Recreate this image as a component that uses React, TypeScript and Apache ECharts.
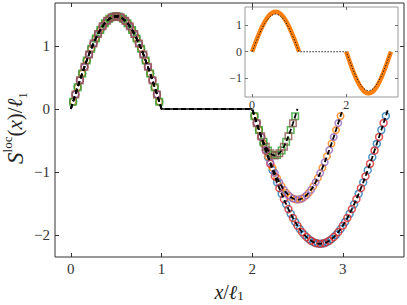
import React, { useEffect, useRef } from "react";
import * as echarts from "echarts";

// ---------- data ----------
// main plot: two interleaved sampling grids (set A and set B)
const humpXA = [0.025, 0.075, 0.125, 0.175, 0.225, 0.275, 0.325, 0.375, 0.425, 0.475, 0.525, 0.575, 0.625, 0.675, 0.725, 0.775, 0.825, 0.875, 0.925, 0.975];
const humpXB = [0.05, 0.1, 0.15, 0.2, 0.25, 0.3, 0.35, 0.4, 0.45, 0.5, 0.55, 0.6, 0.65, 0.7, 0.75, 0.8, 0.85, 0.9, 0.95];
const humpYA = [0.115, 0.343, 0.563, 0.768, 0.955, 1.118, 1.253, 1.358, 1.429, 1.466, 1.466, 1.429, 1.358, 1.253, 1.118, 0.955, 0.768, 0.563, 0.343, 0.115];
const humpYB = [0.23, 0.454, 0.667, 0.864, 1.039, 1.189, 1.31, 1.398, 1.452, 1.47, 1.452, 1.398, 1.31, 1.189, 1.039, 0.864, 0.667, 0.454, 0.23];

const dipXA = [2.025, 2.075, 2.125, 2.175, 2.225, 2.275, 2.325, 2.375, 2.425, 2.475, 2.525, 2.575, 2.625, 2.675, 2.725, 2.775, 2.825, 2.875, 2.925, 2.975, 3.025, 3.075, 3.125, 3.175, 3.225, 3.275, 3.325, 3.375, 3.425, 3.475];
const dipXB = [2.05, 2.1, 2.15, 2.2, 2.25, 2.3, 2.35, 2.4, 2.45, 2.5, 2.55, 2.6, 2.65, 2.7, 2.75, 2.8, 2.85, 2.9, 2.95, 3, 3.05, 3.1, 3.15, 3.2, 3.25, 3.3, 3.35, 3.4, 3.45];

const dip1YA = [-0.116, -0.336, -0.523, -0.659, -0.731, -0.731, -0.659, -0.523, -0.336, -0.116];
const dip1YB = [-0.229, -0.435, -0.599, -0.704, -0.74, -0.704, -0.599, -0.435, -0.229];
const dip2YA = [-0.113, -0.336, -0.551, -0.752, -0.935, -1.095, -1.228, -1.33, -1.4, -1.436, -1.436, -1.4, -1.33, -1.228, -1.095, -0.935, -0.752, -0.551, -0.336, -0.113];
const dip2YB = [-0.225, -0.445, -0.654, -0.846, -1.018, -1.165, -1.283, -1.37, -1.422, -1.44, -1.422, -1.37, -1.283, -1.165, -1.018, -0.846, -0.654, -0.445, -0.225];
const dip3YA = [-0.112, -0.335, -0.554, -0.767, -0.972, -1.165, -1.347, -1.513, -1.663, -1.795, -1.907, -1.998, -2.067, -2.114, -2.137, -2.137, -2.114, -2.067, -1.998, -1.907, -1.795, -1.663, -1.513, -1.347, -1.165, -0.972, -0.767, -0.554, -0.335, -0.112];
const dip3YB = [-0.224, -0.445, -0.661, -0.87, -1.07, -1.258, -1.432, -1.59, -1.731, -1.853, -1.955, -2.035, -2.093, -2.128, -2.14, -2.128, -2.093, -2.035, -1.955, -1.853, -1.731, -1.59, -1.432, -1.258, -1.07, -0.87, -0.661, -0.445, -0.224];

const caseEnds = [2.5, 3, 3.5];
const flatStart = 1;
const flatEnd = 2;

const mainXTicks = [0, 1, 2, 3];
const mainYTicks = [-2, -1, 0, 1];

// inset
const insetHumpX = [0, 0.05, 0.1, 0.15, 0.2, 0.25, 0.3, 0.35, 0.4, 0.45, 0.5, 0.55, 0.6, 0.65, 0.7, 0.75, 0.8, 0.85, 0.9, 0.95, 1];
const insetDipX = [2, 2.05, 2.1, 2.15, 2.2, 2.25, 2.3, 2.35, 2.4, 2.45, 2.5, 2.55, 2.6, 2.65, 2.7, 2.75, 2.8, 2.85, 2.9, 2.95];
const insetOrangeHump = [0, 0.238, 0.47, 0.69, 0.893, 1.075, 1.23, 1.354, 1.446, 1.501, 1.52, 1.501, 1.446, 1.354, 1.23, 1.075, 0.893, 0.69, 0.47, 0.238, 0];
const insetBlackHump = [0, 0.224, 0.442, 0.649, 0.841, 1.011, 1.157, 1.274, 1.36, 1.412, 1.43, 1.412, 1.36, 1.274, 1.157, 1.011, 0.841, 0.649, 0.442, 0.224, 0];
const insetOrangeDip = [0, -0.26, -0.513, -0.752, -0.97, -1.162, -1.323, -1.447, -1.532, -1.575, -1.575, -1.532, -1.447, -1.323, -1.162, -0.97, -0.752, -0.513, -0.26, 0];
const insetBlackDip = [0, -0.244, -0.481, -0.704, -0.909, -1.089, -1.239, -1.355, -1.435, -1.475, -1.475, -1.435, -1.355, -1.239, -1.089, -0.909, -0.704, -0.481, -0.244, 0];
const insetXTicks = [0, 2];
const insetYTicks = [-1, 0, 1];

// ---------- helpers ----------
const pts = (xs: number[], ys: number[]) => ys.map((y, i) => [xs[i], y]);
const FONT = "Liberation Serif, DejaVu Serif, serif";
const fmt = (v: number) => (v < 0 ? "\u2212" + Math.abs(v) : String(v));

const C = {
  blue: "#1f77b4",
  orange: "#ff7f0e",
  green: "#2ca02c",
  red: "#d62728",
  purple: "#9467bd",
  brown: "#8c564b",
};

function markerSeries(data: number[][], color: string, symbol: string, size: number) {
  return {
    type: "scatter",
    xAxisIndex: 0,
    yAxisIndex: 0,
    data,
    symbol,
    symbolSize: size,
    itemStyle: { color: "rgba(0,0,0,0)", borderColor: color, borderWidth: 1.5 },
    silent: true,
    z: 2,
  };
}

function theoryLine(dipA: number[], dipB: number[], end: number) {
  const all = [
    [0, 0],
    ...pts(humpXA, humpYA),
    ...pts(humpXB, humpYB),
    [flatStart, 0],
    [flatEnd, 0],
    ...pts(dipXA, dipA),
    ...pts(dipXB, dipB),
    [end, 0],
  ].sort((a, b) => a[0] - b[0]);
  return {
    type: "line",
    xAxisIndex: 0,
    yAxisIndex: 0,
    data: all,
    showSymbol: false,
    symbol: "none",
    lineStyle: { color: "#000", width: 1.8, type: [5, 3], dashOffset: 0 },
    silent: true,
    z: 3,
  };
}

function axisBase(extra: any) {
  return {
    type: "value",
    splitLine: { show: false },
    axisLine: { show: false, onZero: false },
    ...extra,
  };
}

export default function App() {
  const ref = useRef<HTMLDivElement>(null);
  useEffect(() => {
    if (!ref.current) return;
    const chart = echarts.init(ref.current, undefined, { renderer: "svg" });

    const mainTick = (vals: number[]) => ({
      inside: true,
      length: 4,
      customValues: vals,
      lineStyle: { color: "#333", width: 1 },
    });
    const insetTick = (vals: number[]) => ({
      inside: true,
      length: 3,
      customValues: vals,
      lineStyle: { color: "#555", width: 0.8 },
    });
    const mainLabel = (vals: number[], margin: number) => ({
      customValues: vals, formatter: fmt, fontSize: 15, fontFamily: FONT, fontWeight: "normal", color: "#333", margin,
    });
    const insetLabel = (vals: number[], margin: number) => ({
      customValues: vals, formatter: fmt, fontSize: 12, fontFamily: FONT, fontWeight: "normal", color: "#333", margin,
    });

    const option: any = {
      animation: false,
      backgroundColor: "#fff",
      textStyle: { fontFamily: FONT },
      grid: [
        { left: 55, top: 3, right: 3, bottom: 48, show: true, borderColor: "#333", borderWidth: 1, backgroundColor: "transparent" },
        { left: 245, top: 7, width: 153, height: 90, show: true, borderColor: "#999", borderWidth: 1, backgroundColor: "#fff" },
      ],
      xAxis: [
        axisBase({
          gridIndex: 0, min: -0.175, max: 3.675, position: "bottom",
          axisTick: mainTick(mainXTicks),
          axisLabel: mainLabel(mainXTicks, 4),
        }),
        axisBase({
          gridIndex: 0, min: -0.175, max: 3.675, position: "top",
          axisTick: mainTick(mainXTicks),
          axisLabel: { show: false },
        }),
        axisBase({
          gridIndex: 1, min: -0.15, max: 3.1, position: "bottom",
          axisTick: insetTick(insetXTicks),
          axisLabel: insetLabel(insetXTicks, 2),
        }),
        axisBase({
          gridIndex: 1, min: -0.15, max: 3.1, position: "top",
          axisTick: insetTick(insetXTicks),
          axisLabel: { show: false },
        }),
      ],
      yAxis: [
        axisBase({
          gridIndex: 0, min: -2.35, max: 1.68, position: "left",
          axisTick: mainTick(mainYTicks),
          axisLabel: mainLabel(mainYTicks, 5),
        }),
        axisBase({
          gridIndex: 0, min: -2.35, max: 1.68, position: "right",
          axisTick: mainTick(mainYTicks),
          axisLabel: { show: false },
        }),
        axisBase({
          gridIndex: 1, min: -1.72, max: 1.7, position: "left",
          axisTick: insetTick(insetYTicks),
          axisLabel: insetLabel(insetYTicks, 3),
        }),
        axisBase({
          gridIndex: 1, min: -1.72, max: 1.7, position: "right",
          axisTick: insetTick(insetYTicks),
          axisLabel: { show: false },
        }),
      ],
      series: [
        markerSeries([...pts(humpXA, humpYA), ...pts(dipXA, dip3YA)], C.blue, "circle", 7),
        markerSeries([...pts(humpXA, humpYA), ...pts(dipXA, dip2YA)], C.orange, "circle", 6.5),
        markerSeries([...pts(humpXA, humpYA), ...pts(dipXA, dip1YA)], C.green, "rect", 6.5),
        markerSeries([...pts(humpXB, humpYB), ...pts(dipXB, dip3YB)], C.red, "circle", 7),
        markerSeries([...pts(humpXB, humpYB), ...pts(dipXB, dip2YB)], C.purple, "circle", 6.5),
        markerSeries([...pts(humpXB, humpYB), ...pts(dipXB, dip1YB)], C.brown, "rect", 6.5),
        theoryLine(dip3YA, dip3YB, caseEnds[2]),
        theoryLine(dip2YA, dip2YB, caseEnds[1]),
        theoryLine(dip1YA, dip1YB, caseEnds[0]),
        {
          type: "line", xAxisIndex: 0, yAxisIndex: 0,
          data: [[flatStart, 0], [flatEnd, 0]],
          showSymbol: false, symbol: "none",
          lineStyle: { color: "#000", width: 1.5 }, silent: true, z: 3,
        },
        // inset
        {
          type: "line", xAxisIndex: 2, yAxisIndex: 2, data: pts(insetHumpX, insetOrangeHump),
          showSymbol: false, symbol: "none", smooth: true,
          lineStyle: { color: C.orange, width: 4.5 }, silent: true, z: 4,
        },
        {
          type: "line", xAxisIndex: 2, yAxisIndex: 2, data: pts(insetDipX, insetOrangeDip),
          showSymbol: false, symbol: "none", smooth: true,
          lineStyle: { color: C.orange, width: 4.5 }, silent: true, z: 4,
        },
        {
          type: "line", xAxisIndex: 2, yAxisIndex: 2,
          data: [...pts(insetHumpX, insetBlackHump), ...pts(insetDipX, insetBlackDip)],
          showSymbol: false, symbol: "none",
          lineStyle: { color: "#222", width: 1, type: [1.5, 1.5] }, silent: true, z: 5,
        },
      ],
      graphic: [
        {
          type: "text",
          x: 229,
          y: 292,
          style: {
            text: "{i|x}{n|/}{i|\u2113}{s|1}",
            align: "center",
            verticalAlign: "middle",
            fill: "#222",
            rich: {
              i: { fontFamily: FONT, fontStyle: "italic", fontSize: 20, lineHeight: 20, fill: "#222" },
              n: { fontFamily: FONT, fontSize: 20, lineHeight: 20, fill: "#222" },
              s: { fontFamily: FONT, fontSize: 13, lineHeight: 10, verticalAlign: "bottom", fill: "#222" },
            },
          },
        },
        {
          type: "text",
          x: 15,
          y: 128,
          rotation: Math.PI / 2,
          style: {
            text: "{c|S}{p|loc}{n|(}{i|x}{n|)/}{i|\u2113}{s|1}",
            align: "center",
            verticalAlign: "middle",
            fill: "#222",
            rich: {
              c: { fontFamily: FONT, fontStyle: "italic", fontSize: 23, lineHeight: 28, fill: "#222" },
              p: { fontFamily: FONT, fontSize: 13, lineHeight: 13, verticalAlign: "top", fill: "#222" },
              i: { fontFamily: FONT, fontStyle: "italic", fontSize: 21, lineHeight: 28, fill: "#222" },
              n: { fontFamily: FONT, fontSize: 21, lineHeight: 28, fill: "#222" },
              s: { fontFamily: FONT, fontSize: 13, lineHeight: 13, verticalAlign: "bottom", fill: "#222" },
            },
          },
        },
      ],
    };
    chart.setOption(option);
    return () => chart.dispose();
  }, []);
  return (
    <div
      ref={ref}
      style={{ position: "absolute", left: 0, top: 0, width: 407, height: 305 }}
    />
  );
}
